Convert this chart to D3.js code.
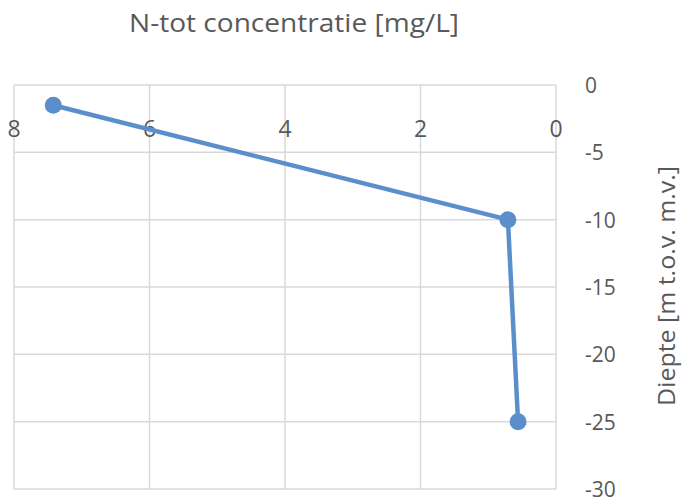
<!DOCTYPE html>
<html>
<head>
<meta charset="utf-8">
<script src="https://cdn.jsdelivr.net/npm/d3@7"></script>
<style>
  body { margin: 0; background: #fff; }
  text { font-family: "Open Sans", sans-serif; fill: #595959; }
</style>
</head>
<body>
<svg id="chart"></svg>
<script>
// N-tot concentration vs depth
let concentration = [7.42, 0.71, 0.56];
let depth = [-1.5, -10, -25];
let xTicks = [8, 6, 4, 2, 0];
let yTicks = [0, -5, -10, -15, -20, -25, -30];

let width = 686;
let height = 499;

let plotLeft = 14, plotRight = 556, plotTop = 85, plotBottom = 489;

let svg = d3.select("#chart").attr("width", width).attr("height", height);

// x is reversed: 8 on the left, 0 on the right
let x = d3.scaleLinear().domain([8, 0]).range([plotLeft, plotRight]);
let y = d3.scaleLinear().domain([0, -30]).range([plotTop, plotBottom]);

// Grid lines
svg.selectAll(".vgrid")
    .data(xTicks)
    .enter()
    .append("line")
    .attr("x1", d => x(d)).attr("x2", d => x(d))
    .attr("y1", plotTop).attr("y2", plotBottom)
    .attr("stroke", "#d9d9d9").attr("stroke-width", 1.5);

svg.selectAll(".hgrid")
    .data(yTicks)
    .enter()
    .append("line")
    .attr("x1", plotLeft).attr("x2", plotRight)
    .attr("y1", d => y(d)).attr("y2", d => y(d))
    .attr("stroke", "#d9d9d9").attr("stroke-width", 1.5);

// x tick labels sit inside the plot, just under the top line
svg.selectAll(".xlab")
    .data(xTicks)
    .enter()
    .append("text")
    .attr("x", d => x(d))
    .attr("y", 137)
    .attr("text-anchor", "middle")
    .attr("font-size", 23)
    .text(d => d);

// y tick labels on the right
svg.selectAll(".ylab")
    .data(yTicks)
    .enter()
    .append("text")
    .attr("x", plotRight + 29)
    .attr("y", d => y(d) + 8)
    .attr("text-anchor", "start")
    .attr("font-size", 21)
    .text(d => d);

// The line + markers
let points = concentration.map((c, i) => ({c: c, d: depth[i]}));

svg.append("path")
    .datum(points)
    .attr("d", d3.line().x(p => x(p.c)).y(p => y(p.d)))
    .attr("fill", "none")
    .attr("stroke", "#5b8fcb")
    .attr("stroke-width", 4.5)
    .attr("stroke-linejoin", "round");

svg.selectAll(".dot")
    .data(points)
    .enter()
    .append("circle")
    .attr("cx", p => x(p.c))
    .attr("cy", p => y(p.d))
    .attr("r", 8.5)
    .attr("fill", "#5b8fcb");

// Titles (stretched a bit to match the original width)
svg.append("text")
    .attr("x", 294)
    .attr("y", 32)
    .attr("text-anchor", "middle")
    .attr("font-size", 25)
    .attr("textLength", 330)
    .attr("lengthAdjust", "spacingAndGlyphs")
    .text("N-tot concentratie [mg/L]");

svg.append("text")
    .attr("transform", "translate(675, 286) rotate(-90)")
    .attr("text-anchor", "middle")
    .attr("font-size", 24)
    .attr("textLength", 240)
    .attr("lengthAdjust", "spacingAndGlyphs")
    .text("Diepte [m t.o.v. m.v.]");
</script>
</body>
</html>
